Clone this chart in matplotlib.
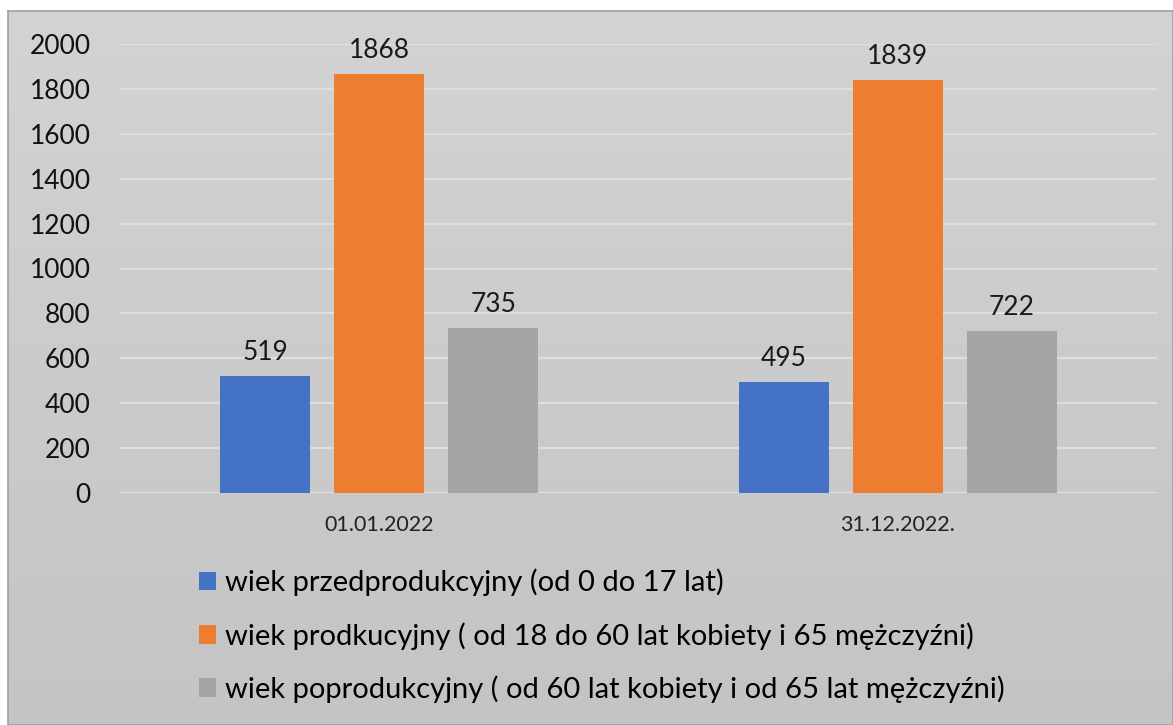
import matplotlib
matplotlib.use('Agg')
import matplotlib.pyplot as plt
import numpy as np
from matplotlib.patches import Patch

plt.rcParams['font.family'] = ['Lato', 'DejaVu Sans']

# Data
dates = ['01.01.2022', '31.12.2022.']
series_names = ['wiek przedprodukcyjny (od 0 do 17 lat)',
                'wiek prodkucyjny ( od 18 do 60 lat kobiety i 65 mężczyźni)',
                'wiek poprodukcyjny ( od 60 lat kobiety i od 65 lat mężczyźni)']
przed = [519, 495]
prod = [1868, 1839]
poprod = [735, 722]
colors = ['#4472C4', '#ED7D31', '#A5A5A5']

W, H = 1173, 725
fig = plt.figure(figsize=(W / 100, H / 100), dpi=100)
fig.patch.set_facecolor('white')

# Chart area background with a soft vertical gradient
bg = fig.add_axes([8 / W, 0, 1 - 8 / W, 1 - 11 / H])
grad = np.linspace(0, 1, 256).reshape(-1, 1)
bg.imshow(grad, aspect='auto', cmap=matplotlib.colors.LinearSegmentedColormap.from_list(
    'g', ['#d3d3d3', '#c4c4c4']), extent=[0, 1, 0, 1], origin='upper')
bg.set_xticks([])
bg.set_yticks([])
for s in bg.spines.values():
    s.set_color('#a0a0a0')
    s.set_linewidth(1.2)
bg.set_zorder(0)

ax = fig.add_axes([120 / W, 1 - 493 / H, (1157 - 120) / W, (493 - 44) / H])
ax.set_zorder(1)
ax.patch.set_alpha(0)

x = np.arange(len(dates))
width = 0.174
offset = 0.22
for i, (vals, c) in enumerate(zip([przed, prod, poprod], colors)):
    bars = ax.bar(x + (i - 1) * offset, vals, width, color=c, zorder=3)
    ax.bar_label(bars, padding=8, fontsize=19, color='#1a1a1a')

ax.set_xlim(-0.5, 1.5)
ax.set_ylim(0, 2000)
ax.set_yticks(range(0, 2001, 200))
ax.yaxis.grid(True, color='#dedede', linewidth=1.6, zorder=0)
ax.set_axisbelow(True)
for s in ax.spines.values():
    s.set_visible(False)
ax.axhline(0, color='#e2e2e2', linewidth=1.8, zorder=2)
ax.set_xticks(x)
ax.set_xticklabels(dates, fontsize=15.5, color='#222222')
ax.tick_params(axis='x', length=0, pad=16)
ax.tick_params(axis='y', length=0, pad=21, labelsize=19, labelcolor='#111111')

handles = [Patch(facecolor=c) for c in colors]
fig.legend(handles, series_names, loc='upper left', bbox_to_anchor=(187 / W, 1 - 557 / H),
           frameon=False, fontsize=21, handlelength=0.6, handleheight=0.6,
           handletextpad=0.3, labelspacing=0.88, borderaxespad=0)

fig.savefig('out.png', dpi=100)
